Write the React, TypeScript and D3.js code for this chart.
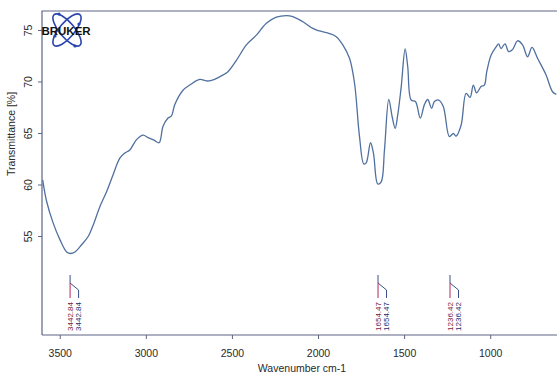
import { useEffect, useRef } from 'react'
import * as d3 from 'd3'

// wavenumber (cm-1), left to right
const wavenumbers = [
  3602, 3579, 3541, 3502, 3463, 3440, 3415, 3376, 3338, 3309, 3270, 3231, 3193, 3154, 3125, 3096,
  3057, 3019, 2990, 2955, 2926, 2903, 2874, 2854, 2835, 2787, 2748, 2690, 2651, 2622, 2574, 2526,
  2477, 2419, 2361, 2303, 2245, 2187, 2149, 2091, 2033, 1994, 1936, 1897, 1859, 1820, 1791, 1762,
  1737, 1723, 1698, 1681, 1656, 1636, 1617, 1592, 1572, 1555, 1540, 1520, 1497, 1482, 1462, 1437,
  1409, 1385, 1366, 1343, 1327, 1302, 1275, 1240, 1217, 1201, 1172, 1143, 1120, 1101, 1082, 1056,
  1037, 1023, 998, 969, 954, 940, 917, 896, 873, 844, 815, 786, 760, 728, 679, 641, 619,
]
// transmittance (%) at each wavenumber
const transmittance = [
  60.5, 58.4, 56.3, 54.7, 53.5, 53.35, 53.5, 54.2, 55.0, 56.1, 57.9, 59.35, 61.0, 62.6, 63.1, 63.4,
  64.4, 64.85, 64.6, 64.35, 64.1, 65.7, 66.5, 66.7, 67.8, 69.2, 69.7, 70.25, 70.1, 70.15, 70.5, 71.0,
  72.1, 73.6, 74.55, 75.7, 76.3, 76.45, 76.35, 75.85, 75.2, 74.95, 74.7, 74.4, 73.6, 72.3, 69.9, 64.7,
  62.05, 62.15, 64.1, 63.1, 60.1, 60.3, 63.4, 68.3, 66.6, 65.5, 66.8, 69.5, 73.2, 71.5, 68.25, 68.1,
  66.5, 67.8, 68.3, 67.45, 68.1, 68.25, 67.6, 64.7, 65.0, 64.75, 65.8, 68.9, 68.5, 69.7, 68.95, 69.55,
  69.7, 71.0, 72.6, 73.4, 73.7, 73.25, 73.7, 72.95, 73.15, 74.0, 73.6, 72.45, 73.35, 72.3, 70.7, 69.05, 68.8,
]

const xTicks = [3500, 3000, 2500, 2000, 1500, 1000]
const yTicks = [55, 60, 65, 70, 75]
const peaks = [3442.84, 1654.47, 1236.42]

export default function App() {
  const svgRef = useRef<SVGSVGElement>(null)
  const width = 557
  const height = 374

  useEffect(() => {
    if (!svgRef.current) return
    const svg = d3.select(svgRef.current)
    svg.selectAll('*').remove()

    const left = 42, right = 557, top = 11, bottom = 335
    const frame = '#5d6585'
    const font = 'Arial, Liberation Sans, sans-serif'

    const x = d3.scaleLinear().domain([3606, 615]).range([left, right])
    const y = d3.scaleLinear().domain([45.44, 76.89]).range([bottom, top])

    // frame: left, top, bottom (right side runs off the page)
    svg.append('path')
      .attr('d', `M${left},${bottom}V${top}H${right}M${left},${bottom}H${right}`)
      .attr('fill', 'none')
      .attr('stroke', frame)
      .attr('stroke-width', 1.2)

    // y ticks + rotated labels
    yTicks.forEach(t => {
      svg.append('line')
        .attr('x1', left - 4).attr('x2', left)
        .attr('y1', y(t)).attr('y2', y(t))
        .attr('stroke', frame)
      svg.append('text')
        .attr('transform', `translate(${left - 14},${y(t)}) rotate(-90)`)
        .attr('text-anchor', 'middle')
        .attr('dy', '0.35em')
        .attr('font-family', font)
        .attr('font-size', 10.5)
        .attr('fill', '#2a2a2a')
        .text(t)
    })

    // x ticks + labels
    xTicks.forEach(t => {
      svg.append('line')
        .attr('x1', x(t)).attr('x2', x(t))
        .attr('y1', bottom).attr('y2', bottom + 4)
        .attr('stroke', frame)
      svg.append('text')
        .attr('x', x(t))
        .attr('y', 357)
        .attr('text-anchor', 'middle')
        .attr('font-family', font)
        .attr('font-size', 10.5)
        .attr('fill', '#2a2a2a')
        .text(t)
    })

    svg.append('text')
      .attr('x', 302).attr('y', 372)
      .attr('text-anchor', 'middle')
      .attr('font-family', font)
      .attr('font-size', 10.5)
      .attr('fill', '#2a2a2a')
      .text('Wavenumber cm-1')

    svg.append('text')
      .attr('transform', 'translate(15,134) rotate(-90)')
      .attr('text-anchor', 'middle')
      .attr('font-family', font)
      .attr('font-size', 10.5)
      .attr('fill', '#2a2a2a')
      .text('Transmittance [%]')

    // spectrum
    const pts = wavenumbers.map((w, i) => [w, transmittance[i]] as [number, number])
    const line = d3.line<[number, number]>()
      .x(d => x(d[0]))
      .y(d => y(d[1]))
      .curve(d3.curveCatmullRom.alpha(0.5))
    svg.append('path')
      .datum(pts)
      .attr('d', line)
      .attr('fill', 'none')
      .attr('stroke', '#50709f')
      .attr('stroke-width', 1.3)

    // peak markers
    peaks.forEach(p => {
      const px = x(p)
      svg.append('path')
        .attr('d', `M${px},275V283L${px + 8.5},290V298`)
        .attr('fill', 'none')
        .attr('stroke', '#3a4f8a')
        .attr('stroke-width', 1)
      svg.append('line')
        .attr('x1', px).attr('x2', px)
        .attr('y1', 283).attr('y2', 298)
        .attr('stroke', '#b0285a')
        .attr('stroke-width', 1)
      const label = (cx: number, color: string) =>
        svg.append('text')
          .attr('transform', `translate(${cx},302) rotate(-90)`)
          .attr('text-anchor', 'end')
          .attr('dy', '0.35em')
          .attr('font-family', font)
          .attr('font-size', 8)
          .attr('fill', color)
          .text(p.toFixed(2))
      label(px, '#7a1838')
      label(px + 8.5, '#1a2c78')
    })

    // Bruker logo
    const logo = svg.append('g').attr('transform', 'translate(67,30)')
    ;[-50, 50].forEach(a => {
      logo.append('ellipse')
        .attr('rx', 20).attr('ry', 7.5)
        .attr('transform', `rotate(${a})`)
        .attr('fill', 'none')
        .attr('stroke', '#2a45b0')
        .attr('stroke-width', 1.6)
    })
    ;[[-8, -16], [8, 16], [-12, 6], [12, -6]].forEach(([dx, dy]) => {
      logo.append('circle').attr('cx', dx).attr('cy', dy).attr('r', 1.6).attr('fill', '#2a45b0')
    })
    logo.append('text')
      .attr('x', -1).attr('y', 5)
      .attr('text-anchor', 'middle')
      .attr('font-family', font)
      .attr('font-weight', 'bold')
      .attr('font-size', 11.5)
      .attr('fill', '#111')
      .text('BRUKER')
  }, [])

  return (
    <svg
      ref={svgRef}
      width={width}
      height={height}
      style={{ position: 'absolute', left: 0, top: 0, background: '#fff' }}
    />
  )
}
